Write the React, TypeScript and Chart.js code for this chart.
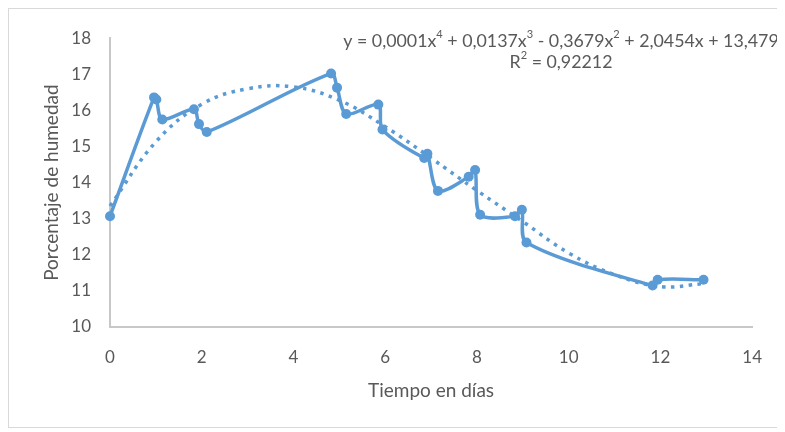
import React, { useEffect, useRef } from "react";
import { Chart, registerables } from "chart.js";

Chart.register(...registerables);

// Measured series (days, moisture %)
const dayValues = [0, 0.96, 1.01, 1.14, 1.83, 1.94, 2.11, 4.82, 4.95, 5.15, 5.85, 5.94, 6.85, 6.92, 7.15, 7.82, 7.96, 8.07, 8.83, 8.98, 9.08, 11.83, 11.94, 12.94];
const humidityValues = [13.07, 16.36, 16.3, 15.75, 16.03, 15.62, 15.4, 17.02, 16.63, 15.9, 16.16, 15.47, 14.68, 14.8, 13.77, 14.16, 14.35, 13.11, 13.07, 13.25, 12.34, 11.15, 11.31, 11.31];

// Polynomial trendline
const trendDays = [0, 1, 2, 3, 4, 5, 6, 7, 8, 9, 10, 11, 12, 12.94];
const trendValues = [13.35, 15.13, 16.17, 16.6, 16.65, 16.28, 15.55, 14.68, 13.78, 12.92, 12.05, 11.45, 11.12, 11.2];

const xMin = 0;
const xMax = 14;
const xStep = 2;
const yMin = 10;
const yMax = 18;
const yStep = 1;

const xTitle = "Tiempo en días";
const yTitle = "Porcentaje de humedad";

// [text, superscript?]
const equationParts: [string, boolean][] = [
  ["y = 0,0001x", false],
  ["4", true],
  [" + 0,0137x", false],
  ["3", true],
  [" - 0,3679x", false],
  ["2", true],
  [" + 2,0454x + 13,479", false],
];
const r2Parts: [string, boolean][] = [
  ["R", false],
  ["2", true],
  [" = 0,92212", false],
];

const BLUE = "#5b9bd5";
const TEXT = "#595959";
const FONT = "Lato, 'Open Sans', sans-serif";

const equationPlugin = {
  id: "equationLabel",
  afterDatasetsDraw(chart: any) {
    const ctx: CanvasRenderingContext2D = chart.ctx;
    ctx.save();
    ctx.fillStyle = TEXT;
    ctx.textBaseline = "middle";
    ctx.textAlign = "left";
    const measure = (parts: [string, boolean][], size: number) => {
      let w = 0;
      for (const [t, sup] of parts) {
        ctx.font = `${sup ? size * 0.62 : size}px ${FONT}`;
        w += ctx.measureText(t).width;
      }
      return w;
    };
    const base = 16;
    const size = (base * 436) / measure(equationParts, base);
    const draw = (parts: [string, boolean][], cx: number, cy: number) => {
      const w = measure(parts, size);
      let x = cx - w / 2;
      for (const [t, sup] of parts) {
        ctx.font = `${sup ? size * 0.62 : size}px ${FONT}`;
        ctx.fillText(t, x, sup ? cy - size * 0.35 : cy);
        x += ctx.measureText(t).width;
      }
    };
    draw(equationParts, 552, 32);
    draw(r2Parts, 552, 53);
    ctx.restore();
  },
};

export default function App() {
  const ref = useRef<HTMLCanvasElement>(null);

  useEffect(() => {
    const canvas = ref.current;
    if (!canvas) return;
    const chart = new Chart(canvas, {
      type: "scatter",
      data: {
        datasets: [
          {
            label: "Humedad",
            data: dayValues.map((d, i) => ({ x: d, y: humidityValues[i] })),
            showLine: true,
            borderColor: BLUE,
            backgroundColor: BLUE,
            borderWidth: 3.5,
            pointRadius: 5,
            pointBorderWidth: 0,
            tension: 0.3,
            clip: false,
          } as any,
          {
            label: "Tendencia",
            data: trendDays.map((d, i) => ({ x: d, y: trendValues[i] })),
            showLine: true,
            borderColor: BLUE,
            backgroundColor: BLUE,
            borderWidth: 3.5,
            borderDash: [3.5, 5.5],
            pointRadius: 0,
            tension: 0.4,
            clip: false,
          } as any,
        ],
      },
      options: {
        responsive: false,
        animation: false,
        devicePixelRatio: 1,
        layout: { padding: { top: 26, right: 25, left: 0, bottom: 0 } },
        plugins: {
          legend: { display: false },
          tooltip: { enabled: false },
        },
        scales: {
          x: {
            type: "linear",
            min: xMin,
            max: xMax,
            grid: { display: false, drawTicks: false },
            border: { display: true, color: "#c8c8c8", width: 2 },
            ticks: {
              stepSize: xStep,
              padding: 20,
              color: TEXT,
              font: { family: FONT, size: 17 },
            },
            title: {
              display: true,
              text: xTitle,
              color: TEXT,
              font: { family: FONT, size: 19 },
              padding: { top: 0, bottom: 25 },
            },
            afterFit: (s: any) => {
              s.height = 100;
            },
          },
          y: {
            type: "linear",
            min: yMin,
            max: yMax,
            grid: { display: false, drawTicks: false },
            border: { display: true, color: "#c8c8c8", width: 2 },
            ticks: {
              stepSize: yStep,
              padding: 19,
              color: TEXT,
              font: { family: FONT, size: 17 },
            },
            title: {
              display: true,
              text: yTitle,
              color: TEXT,
              font: { family: FONT, size: 19 },
              padding: { top: 31, bottom: 0 },
            },
            afterFit: (s: any) => {
              s.width = 101;
            },
          },
        },
      } as any,
      plugins: [equationPlugin],
    });
    return () => chart.destroy();
  }, []);

  return (
    <div
      style={{
        width: 775,
        height: 420,
        border: "1px solid #d9d9d9",
        boxSizing: "border-box",
        background: "#fff",
      }}
    >
      <canvas ref={ref} width={773} height={418} style={{ display: "block", width: 773, height: 418 }} />
    </div>
  );
}
